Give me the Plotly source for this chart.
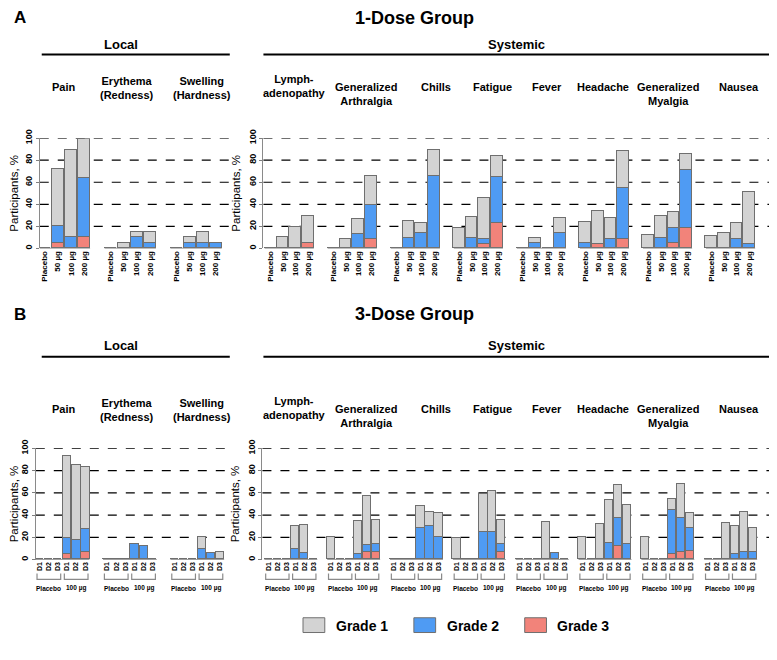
import plotly.graph_objects as go

# ---------------- data ----------------
local_symptoms = ["Pain", "Erythema<br>(Redness)", "Swelling<br>(Hardness)"]
systemic_symptoms = ["Lymph-<br>adenopathy", "Generalized<br>Arthralgia", "Chills", "Fatigue",
                     "Fever", "Headache", "Generalized<br>Myalgia", "Nausea"]
dose_labels_1 = ["Placebo", "50 µg", "100 µg", "200 µg"]
arm_labels_3 = ["Placebo", "100 µg"]
day_labels_3 = ["D1", "D2", "D3"]
grade_names = ["Grade 1", "Grade 2", "Grade 3"]

# 1-dose group: % participants by grade; rows = symptoms, cols = dose_labels_1
a_local_g1 = [[0, 52, 79, 35], [0, 5, 5, 10], [0, 5, 10, 0]]
a_local_g2 = [[0, 15, 10, 54], [0, 0, 10, 5], [0, 5, 5, 5]]
a_local_g3 = [[0, 5, 0, 10], [0, 0, 0, 0], [0, 0, 0, 0]]
a_sys_g1 = [[0, 10, 19, 24], [0, 8, 13.5, 26.5], [0, 15.4, 9.3, 23.6], [18.4, 19.3, 37.1, 18.9],
            [0, 4.5, 0, 13.8], [19, 29.8, 19, 33.2], [12, 19.9, 14.4, 14.4], [11.4, 13.9, 14.5, 47.3]]
a_sys_g2 = [[0, 0, 0, 0], [0, 0, 13, 31], [0, 9.3, 13.9, 65.4], [0, 9.3, 4.5, 41.9],
            [0, 4.8, 0, 13.9], [5.1, 0, 8.4, 46.4], [0, 9.3, 13.9, 52.4], [0, 0, 8.4, 3.9]]
a_sys_g3 = [[0, 0, 0, 5], [0, 0, 0, 8.5], [0, 0, 0, 0], [0, 0, 4.2, 22.6],
            [0, 0, 0, 0], [0, 3.9, 0, 8.4], [0, 0, 4.5, 18.4], [0, 0, 0, 0]]

# 3-dose group: cols = Placebo D1-D3, 100 µg D1-D3
b_local_g1 = [[0, 0, 0, 73.6, 67.3, 55.7], [0, 0, 0, 0, 0, 0], [0, 0, 0, 10.2, 0, 6.6]]
b_local_g2 = [[0, 0, 0, 14.4, 17.7, 20.9], [0, 0, 0, 13.8, 11.7, 0], [0, 0, 0, 9.6, 6, 0]]
b_local_g3 = [[0, 0, 0, 4.5, 0, 6.6], [0, 0, 0, 0, 0, 0], [0, 0, 0, 0, 0, 0]]
b_sys_g1 = [[0, 0, 0, 20.3, 25, 0], [20.3, 0, 0, 29.5, 43.9, 21.2], [0, 0, 0, 19.4, 12.5, 20.9],
            [19.4, 0, 0, 34, 36.7, 21.2], [0, 0, 0, 33.7, 0, 0], [19.9, 0, 31.9, 39.1, 30.2, 35],
            [19.9, 0, 0, 10.1, 30.5, 13.8], [0, 0, 32.8, 24.5, 36.4, 21.5]]
b_sys_g2 = [[0, 0, 0, 9.3, 5.7, 0], [0, 0, 0, 5.1, 6.2, 7.4], [0, 0, 0, 28.4, 29.9, 20.3],
            [0, 0, 0, 24.5, 24.5, 7.1], [0, 0, 0, 0, 6, 0], [0, 0, 0, 14.3, 24.5, 14],
            [0, 0, 0, 39.1, 31, 20.8], [0, 0, 0, 5.1, 6.3, 6.9]]
b_sys_g3 = [[0, 0, 0, 0, 0, 0], [0, 0, 0, 0, 6.6, 6.6], [0, 0, 0, 0, 0, 0], [0, 0, 0, 0, 0, 6.6],
            [0, 0, 0, 0, 0, 0], [0, 0, 0, 0, 12.2, 0], [0, 0, 0, 5.1, 6.3, 7.2], [0, 0, 0, 0, 0, 0]]

# ---------------- layout helpers ----------------
W, H = 777, 660
M = 8  # page body margin around the plot div
def px(v):
    return (v - M) / W
def py(v):
    return 1 - (v - M) / H

GRADE_COLORS = ["#d3d3d3", "#4f9bf3", "#f2837a"]
EDGE = "#6f6f6f"
NARROW = "Liberation Sans Narrow, Arial Narrow, Liberation Sans, Arial, sans-serif"
SANS = "Liberation Sans, Arial, sans-serif"

panels = [
    dict(k="", grades=(a_local_g1, a_local_g2, a_local_g3), dom=(32, 227), first=37, slot=13.3,
         stride=5, y0=243, y100=131, kind="A"),
    dict(k="2", grades=(a_sys_g1, a_sys_g2, a_sys_g3), dom=(258, 772), first=265, slot=12.74,
         stride=5, y0=243, y100=131, kind="A"),
    dict(k="3", grades=(b_local_g1, b_local_g2, b_local_g3), dom=(28, 227), first=32, slot=9.2,
         stride=7.4, y0=559, y100=446, kind="B"),
    dict(k="4", grades=(b_sys_g1, b_sys_g2, b_sys_g3), dom=(257, 772), first=263, slot=9.07,
         stride=7, y0=559, y100=446, kind="B"),
]

fig = go.Figure()
shapes = []
annotations = []

for p in panels:
    xa, ya = "x" + p["k"], "y" + p["k"]
    g1, g2, g3 = p["grades"]
    ncat = len(g1[0])
    xs, t1, t2, t3, tickvals, ticktext = [], [], [], [], [], []
    for gi in range(len(g1)):
        for ci in range(ncat):
            xpos = gi * p["stride"] + ci
            xs.append(xpos)
            t1.append(g1[gi][ci]); t2.append(g2[gi][ci]); t3.append(g3[gi][ci])
            tickvals.append(xpos)
            ticktext.append(dose_labels_1[ci] if p["kind"] == "A" else day_labels_3[ci % 3])
        # group baseline
        shapes.append(dict(type="line", xref=xa, yref=ya, x0=gi * p["stride"] - 0.45,
                           x1=gi * p["stride"] + ncat - 0.55, y0=0, y1=0,
                           line=dict(color="#7f7f7f", width=1.3), layer="above"))
        if p["kind"] == "B":
            for ai, arm in enumerate(arm_labels_3):
                a0 = gi * p["stride"] + ai * 3 - 0.3
                a1 = gi * p["stride"] + ai * 3 + 2.3
                ytop, ybot = py(573), py(579)
                shapes.append(dict(type="path", xref=xa, yref="paper",
                                   path=f"M {a0},{ytop} L {a0},{ybot} L {a1},{ybot} L {a1},{ytop}",
                                   line=dict(color="#8a8a8a", width=1.2)))
                annotations.append(dict(x=(a0 + a1) / 2, y=py(588), xref=xa, yref="paper",
                                        text=f"<b>{arm}</b>", showarrow=False,
                                        font=dict(size=6.5, family=SANS, color="black"),
                                        xanchor="center", yanchor="middle"))
    for vals, col in [(t3, GRADE_COLORS[2]), (t2, GRADE_COLORS[1]), (t1, GRADE_COLORS[0])]:
        fig.add_trace(go.Bar(x=xs, y=vals, xaxis=xa, yaxis=ya, width=0.92,
                             marker=dict(color=col, line=dict(color=EDGE, width=1)),
                             showlegend=False))
    # dashed gridlines
    for v in [20, 40, 60, 80, 100]:
        shapes.append(dict(type="line", xref=xa + " domain", yref=ya, x0=0, x1=1, y0=v, y1=v,
                           line=dict(color="black", width=1.2, dash="dash"), layer="below"))
    rng = [(p["dom"][0] - p["first"]) / p["slot"], (p["dom"][1] - p["first"]) / p["slot"]]
    fig.layout["xaxis" + p["k"]] = dict(
        domain=[px(p["dom"][0]), px(p["dom"][1])], range=rng, anchor=ya,
        tickvals=tickvals, ticktext=ticktext, tickangle=-90, ticks="",
        tickfont=dict(size=8 if p["kind"] == "A" else 7, family=SANS, color="black",
                      weight="bold"),
        showgrid=False, zeroline=False, showline=False, fixedrange=True)
    fig.layout["yaxis" + p["k"]] = dict(
        domain=[py(p["y0"]), py(p["y100"])], range=[0, 100], anchor=xa,
        tickvals=[0, 20, 40, 60, 80, 100], tickangle=-90, ticks="outside", ticklen=3,
        tickcolor="#7f7f7f", showline=True, linecolor="#8a8a8a", linewidth=1,
        tickfont=dict(size=9, family=SANS, color="black", weight="bold"),
        showgrid=False, zeroline=False,
        title=dict(text="Participants, %", font=dict(size=11.5, family=SANS, color="black"),
                   standoff=4))

# ---------------- titles & headers ----------------
def text(x, y, s, size, family=NARROW, xanchor="center", yanchor="middle"):
    annotations.append(dict(x=px(x), y=py(y), xref="paper", yref="paper", text=s,
                            showarrow=False, xanchor=xanchor, yanchor=yanchor,
                            font=dict(size=size, family=family, color="black")))

sub_x = [56, 120, 196, 289, 362, 432, 489, 545, 601, 667, 739]
sub_shift = [0, -6, -6, -8, 0, 0, 0, 0, 0, 0, 0]
all_symptoms = local_symptoms + systemic_symptoms
for letter, title, ty, hy, ly, sy in [("A", "1-Dose Group", 9, 36, 46, 71),
                                      ("B", "3-Dose Group", 310, 342, 353, 398)]:
    text(4, ty, f"<b>{letter}</b>", 17, SANS, xanchor="left")
    text(411, ty, f"<b>{title}</b>", 18)
    text(114, hy, "<b>Local</b>", 13)
    text(514, hy, "<b>Systemic</b>", 13)
    shapes.append(dict(type="line", xref="paper", yref="paper", x0=px(34), x1=px(224),
                       y0=py(ly), y1=py(ly), line=dict(color="black", width=2)))
    shapes.append(dict(type="line", xref="paper", yref="paper", x0=px(258), x1=px(770),
                       y0=py(ly), y1=py(ly), line=dict(color="black", width=2)))
    for s, sx, sh in zip(all_symptoms, sub_x, sub_shift):
        text(sx, sy + sh, f"<b>{s}</b>", 11, yanchor="top")

# ---------------- legend ----------------
leg_x = [298, 410, 522]
for name, col, lx in zip(grade_names, GRADE_COLORS, leg_x):
    shapes.append(dict(type="rect", xref="paper", yref="paper", x0=px(lx), x1=px(lx + 22),
                       y0=py(633), y1=py(618), fillcolor=col, line=dict(color=EDGE, width=1)))
    text(lx + 31, 626, f"<b>{name}</b>", 14, SANS, xanchor="left")

fig.update_layout(width=W, height=H, margin=dict(l=0, r=0, t=0, b=0),
                  paper_bgcolor="white", plot_bgcolor="white", barmode="stack",
                  bargap=0, shapes=shapes, annotations=annotations, showlegend=False)

fig.write_html("out.html")
